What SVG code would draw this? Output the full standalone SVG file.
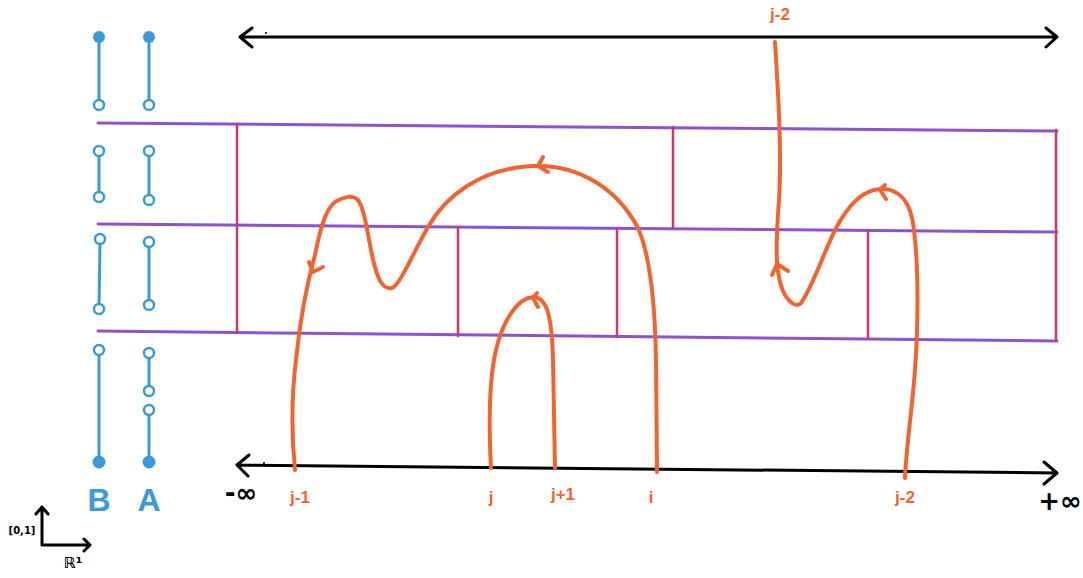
<svg xmlns="http://www.w3.org/2000/svg" width="1083" height="578" viewBox="0 0 1083 578">
<style>
.bk{stroke:#000;stroke-width:3;fill:none;stroke-linecap:round;stroke-linejoin:round}
.pu{stroke:#8C52D2;stroke-width:3;fill:none;stroke-linecap:round}
.mg{stroke:#D2356C;stroke-width:2.5;fill:none;stroke-linecap:round}
.or{stroke:#F26332;stroke-width:4;fill:none;stroke-linecap:round;stroke-linejoin:round}
.bl{stroke:#3A9ADC;stroke-width:3;fill:none;stroke-linecap:round}
.oc{stroke:#3A9ADC;stroke-width:2.5;fill:#fff}
.fc{fill:#3A9ADC}
.ol{fill:#F26332;font-family:"Liberation Sans",sans-serif;font-size:17px;font-weight:bold;text-anchor:middle}
.bt{fill:#000;font-family:"DejaVu Sans",sans-serif;font-weight:bold;text-anchor:middle}
.blt{fill:#3A9ADC;font-family:"Liberation Sans",sans-serif;font-size:32px;font-weight:bold;text-anchor:middle}
</style>
<rect width="1083" height="578" fill="#fff"/>
<g id="axes-black">
<path class="bk" d="M240,37 L1057,37 M252,28 L240,37 L252,47 M1046,28 L1057,37 L1046,47"/>
<circle cx="266" cy="33" r="1" fill="#000"/>
<path class="bk" d="M237,465 L1057,473 M249,455 L237,465 L248,476 M1044,462 L1057,473 L1044,484"/>
<circle cx="264" cy="463" r="1" fill="#000"/>
<text class="bt" x="241" y="502" font-size="26">-∞</text>
<text class="bt" x="1060" y="510" font-size="26">+∞</text>
</g>
<g id="strips">
<path class="pu" d="M98,123 L1057,131"/>
<path class="pu" d="M98,224 L1057,232"/>
<path class="pu" d="M98,331 L1057,341"/>
<path class="mg" d="M237,124 L237,333"/>
<path class="mg" d="M458,227 L458,336"/>
<path class="mg" d="M617,229 L617,337"/>
<path class="mg" d="M673,127 L673,228"/>
<path class="mg" d="M868,231 L868,339"/>
<path class="mg" d="M1056,130 L1056,341"/>
</g>
<g id="column-B">
<path class="bl" d="M99,37 L99,105 M99,151 L99,197 M100,239 L99,309 M99,350 L99,462"/>
<circle class="fc" cx="99" cy="37" r="6"/>
<circle class="oc" cx="99" cy="105" r="5"/>
<circle class="oc" cx="99" cy="151" r="5"/>
<circle class="oc" cx="99" cy="197" r="5"/>
<circle class="oc" cx="100" cy="239" r="5"/>
<circle class="oc" cx="99" cy="309" r="5"/>
<circle class="oc" cx="99" cy="350" r="5"/>
<circle class="fc" cx="99" cy="462" r="6.5"/>
<text class="blt" x="99" y="511">B</text>
</g>
<g id="column-A">
<path class="bl" d="M149,37 L149,105 M149,151 L149,200 M149,242 L149,305 M149,353 L149,391 M149,410 L149,462"/>
<circle class="fc" cx="149" cy="37" r="6"/>
<circle class="oc" cx="149" cy="105" r="5"/>
<circle class="oc" cx="149" cy="151" r="5"/>
<circle class="oc" cx="149" cy="200" r="5"/>
<circle class="oc" cx="149" cy="242" r="5"/>
<circle class="oc" cx="149" cy="305" r="5"/>
<circle class="oc" cx="149" cy="353" r="5"/>
<circle class="oc" cx="149" cy="391" r="5"/>
<circle class="oc" cx="149" cy="410" r="5"/>
<circle class="fc" cx="149" cy="462" r="6.5"/>
<text class="blt" x="149" y="511">A</text>
</g>
<g id="connectors">
<path class="or" d="M295,470 C292,440 291,400 296,360 C300,320 308,280 315,255 C320,230 325,210 335,202 C343,197 352,195 357,199 C364,206 367,230 372,255 C377,278 382,290 392,288 C400,285 412,255 428,227 C445,197 480,168 533,166 C580,164 618,190 638,228 C650,255 655,300 656,360 L657,472"/>
<path class="or" d="M309,262 L313,272 L323,267"/>
<path class="or" d="M543,157 L538,166 L548,172"/>
<path class="or" d="M491,468 C489,430 489,380 496,350 C503,320 518,298 533,297 C548,297 552,320 553,360 L555,468"/>
<path class="or" d="M537,293 L533,298 L538,307"/>
<path class="or" d="M775,42 C778,90 782,150 779,200 C776,240 774,275 785,295 C790,303 797,308 801,303 C812,288 825,250 835,230 C848,205 862,190 880,189 C898,188 911,200 914,230 C919,270 918,330 915,370 C912,410 906,450 905,478"/>
<path class="or" d="M772,275 L777,264 L788,271"/>
<path class="or" d="M885,185 L880,190 L886,199"/>
</g>
<g id="labels">
<text class="ol" x="780" y="20">j-2</text>
<text class="ol" x="300" y="503">j-1</text>
<text class="ol" x="491" y="503">j</text>
<text class="ol" x="563" y="500">j+1</text>
<text class="ol" x="651" y="503">i</text>
<text class="ol" x="905" y="503">j-2</text>
</g>
<g id="frame-icon">
<path class="bk" d="M42,545 L42,507 M36,514 L42,507 L48,514 M42,545 L90,545 M84,539 L90,545 L84,551" stroke-width="2.5"/>
<text class="bt" x="22" y="534" font-size="10">[0,1]</text>
<text class="bt" x="73" y="568" font-size="15">ℝ¹</text>
</g>
</svg>
